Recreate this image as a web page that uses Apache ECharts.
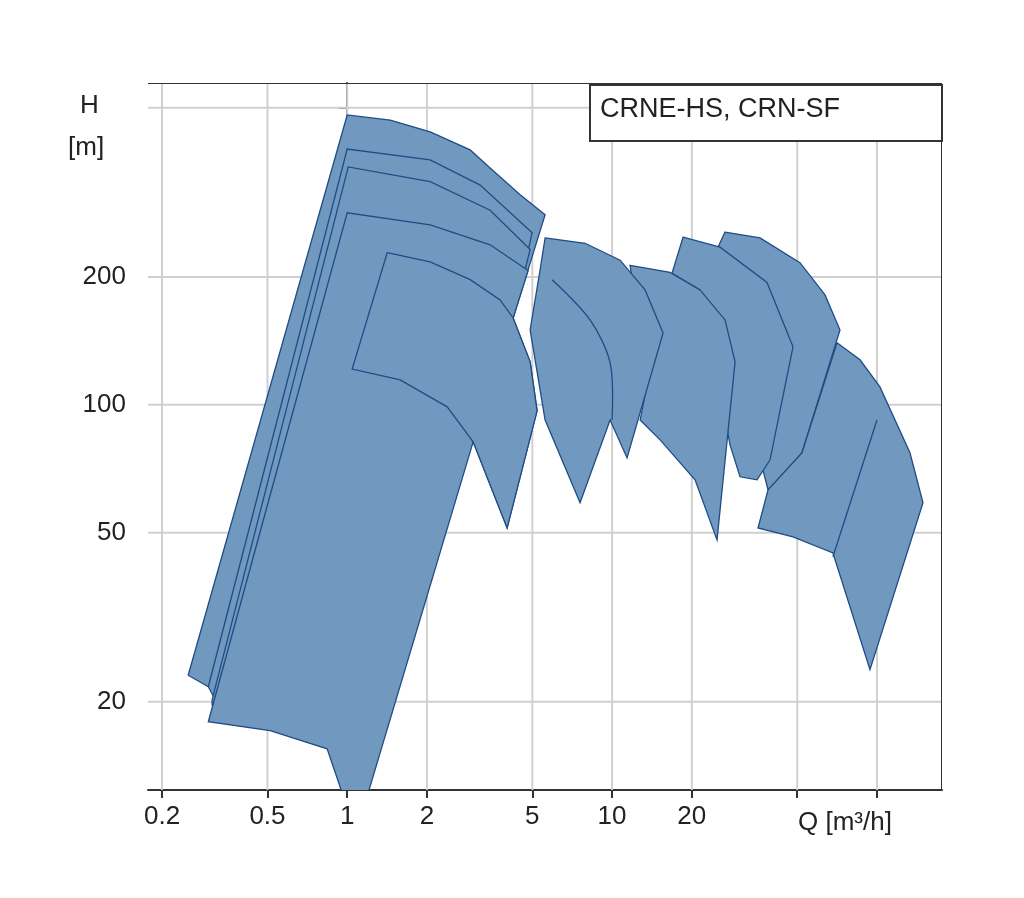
<!DOCTYPE html>
<html><head><meta charset="utf-8">
<script src="https://cdn.jsdelivr.net/npm/echarts@6/dist/echarts.min.js"></script>
<style>html,body{margin:0;background:#fff}#c{width:1024px;height:898px}</style>
</head><body><div id="c"></div>
<script>
// Q [m3/h], H [m]
const xTicks = [0.2, 0.5, 1, 2, 5, 10, 20, 50, 100];
const xTickLabels = ['0.2','0.5','1','2','5','10','20','',''];
const yTicks = [20, 50, 100, 200, 500];
const yTickLabels = ['20','50','100','200',''];
const legendText = 'CRNE-HS, CRN-SF';

const shapeA1 = [[0.251,23.1],[1,481],[1.453,468],[2.057,439],[2.912,398],[3.464,361],[4.497,312],[5.587,280],[4.231,160.1],[0.665,34.8],[0.299,21.7]];
const shapeA2 = [[0.299,21.7],[1,400],[2.057,377],[3.177,329],[4.99,254],[4.231,160.1],[0.665,31.2],[0.318,20.2]];
const shapeA3 = [[0.309,20.2],[1.009,363],[2.057,335],[3.464,287],[4.905,232],[4.231,160.1],[0.791,28.0],[0.309,19.7]];
const shapeA4 = [[0.299,17.95],[1,283],[2.057,265],[3.464,238],[4.82,207],[4.231,160.1],[4.905,126.2],[5.21,96.8],[4.016,51.3],[2.989,81.8],[1.19,12.0],[0.966,12.0],[0.84,15.5],[0.512,17.1]];
const shapeA5 = [[1.416,228],[2.057,217],[2.912,197],[3.779,176.6],[4.231,160.1],[4.905,126.2],[5.21,96.8],[4.016,51.3],[2.989,81.8],[2.385,98.9],[1.585,114.5],[1.044,121.4]];
const shapeB1 = [[5.587,247],[7.91,240],[10.72,219],[13.32,186.4],[15.58,147.6],[11.39,75.0],[9.83,92.1],[7.57,58.8],[5.587,92.1],[4.905,150],[5.35,208]];
const lineB1 = [[5.94,197],[8.26,158.4],[9.83,125.5],[10,92.1]];
const shapeD1 = [[26.7,255],[36.19,247],[51.2,216],[63.66,181.4],[72.5,150],[52.1,77.1],[46.96,70.3],[38.79,63.1],[31.77,102.7],[23.85,219]];
const shapeC2 = [[18.53,248],[25.56,235],[38.45,194],[48.2,136.9],[39.47,74.2],[35.26,66.6],[30.41,67.7],[27.88,80.5],[21.48,186.4],[16.84,204]];
const shapeC1 = [[11.69,213],[16.55,205],[21.48,186.4],[26.7,158.4],[29.13,126.2],[24.9,48.1],[20.57,66.6],[15.18,82.7],[12.76,92.1],[13.67,114.5]];
const shapeD2 = [[70.66,139.9],[86.3,127.6],[102.6,110.2],[133.2,77.1],[149.2,58.8],[94.1,23.8],[68.2,44.8],[48.2,48.9],[35.56,51.3],[38.79,63.1],[52.1,77.1]];
const lineD2 = [[100,92.1],[68.2,43.9]];

const polygons = [shapeA1, shapeA2, shapeA3, shapeA4, shapeA5, shapeD1, shapeC2, shapeC1, shapeB1, shapeD2];
const polylines = [lineB1, lineD2];

const L = Math.log10;
const chart = echarts.init(document.getElementById('c'));
const font = 'Liberation Sans, Arial, sans-serif';
chart.setOption({
  animation: false,
  grid: {left: 148, right: 82, top: 83, bottom: 108},
  xAxis: {type: 'value', min: L(0.177), max: L(176),
    axisLine: {lineStyle: {color: '#333', width: 2}},
    axisTick: {customValues: xTicks.map(L), length: 8, lineStyle: {color: '#333', width: 2}},
    axisLabel: {customValues: xTicks.map(L), formatter: v => { const i = xTicks.findIndex(t => Math.abs(L(t)-v) < 1e-6); return i >= 0 ? xTickLabels[i] : ''; },
      fontSize: 26, color: '#222', fontFamily: font, margin: 14},
    splitLine: {show: false}},
  yAxis: {type: 'value', min: L(12.4), max: L(572),
    axisLine: {lineStyle: {color: '#333', width: 2}},
    axisTick: {customValues: yTicks.map(L), length: 8, lineStyle: {color: '#333', width: 2}},
    axisLabel: {customValues: yTicks.map(L), formatter: v => { const i = yTicks.findIndex(t => Math.abs(L(t)-v) < 1e-6); return i >= 0 ? yTickLabels[i] : ''; },
      fontSize: 26, color: '#222', fontFamily: font, margin: 22},
    splitLine: {show: false}},
  series: [
    {type: 'custom', silent: true, z: 1, clip: true, data: [0],
      renderItem: (params, api) => {
        const ch = [];
        const y0 = api.coord([L(0.177), L(12.4)])[1], y1 = api.coord([L(0.177), L(572)])[1];
        const x0 = api.coord([L(0.177), L(12.4)])[0], x1 = api.coord([L(176), L(12.4)])[0];
        xTicks.forEach(t => { const x = api.coord([L(t), L(12.4)])[0];
          ch.push({type: 'line', shape: {x1: x, y1: y0, x2: x, y2: y1}, style: {stroke: '#d0d0d0', lineWidth: 2}}); });
        yTicks.forEach(t => { const y = api.coord([L(0.177), L(t)])[1];
          ch.push({type: 'line', shape: {x1: x0, y1: y, x2: x1, y2: y}, style: {stroke: '#d0d0d0', lineWidth: 2}}); });
        ch.push({type: 'line', shape: {x1: x0, y1: y1, x2: x1, y2: y1}, style: {stroke: '#333', lineWidth: 2}});
        ch.push({type: 'line', shape: {x1: x1, y1: y1, x2: x1, y2: y0}, style: {stroke: '#333', lineWidth: 2}});
        return {type: 'group', children: ch};
      }},
    {type: 'custom', silent: true, z: 2, clip: true, data: polygons.map((p, i) => i),
      renderItem: (params, api) => {
        const pts = polygons[params.dataIndex].map(p => api.coord([L(p[0]), L(p[1])]));
        return {type: 'polygon', shape: {points: pts}, style: {fill: '#7199bf', stroke: '#1f4c85', lineWidth: 1.3}};
      }},
    {type: 'custom', silent: true, z: 3, clip: true, data: polylines.map((p, i) => i),
      renderItem: (params, api) => {
        const pts = polylines[params.dataIndex].map(p => api.coord([L(p[0]), L(p[1])]));
        return {type: 'polyline', shape: {points: pts, smooth: 0.3}, style: {fill: 'none', stroke: '#1f4c85', lineWidth: 1.3}};
      }}
  ],
  graphic: [
    {type: 'rect', left: 589, top: 84, shape: {width: 352, height: 56}, style: {fill: '#fff', stroke: '#333', lineWidth: 2}, z: 10},
    {type: 'text', left: 600, top: 96, style: {text: legendText, fontSize: 27, fill: '#222', fontFamily: font}, z: 11},
    {type: 'text', left: 80, top: 93, style: {text: 'H', fontSize: 26, fill: '#222', fontFamily: font}},
    {type: 'text', left: 68, top: 135, style: {text: '[m]', fontSize: 26, fill: '#222', fontFamily: font}},
    {type: 'text', left: 798, top: 810, style: {text: 'Q [m³/h]', fontSize: 26, fill: '#222', fontFamily: font}}
  ]
});
</script></body></html>
